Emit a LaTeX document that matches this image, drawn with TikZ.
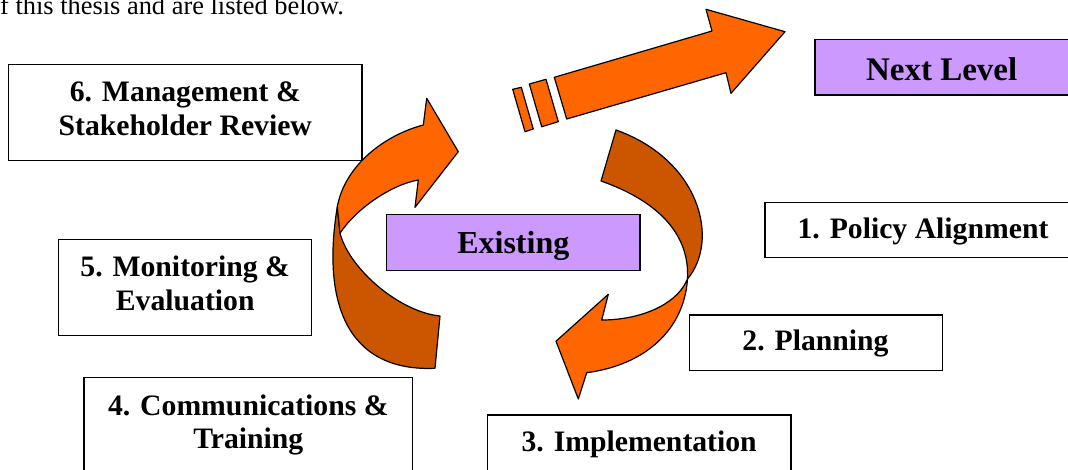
\documentclass[tikz,border=0pt]{standalone}
\usepackage{fontspec}
\setmainfont{Liberation Serif}
\definecolor{ribbonfront}{RGB}{255,102,0}
\definecolor{ribbonback}{RGB}{204,85,0}
\definecolor{levelfill}{RGB}{204,153,255}
\begin{document}
\begin{tikzpicture}[x=1pt,y=-1pt,
  stagebox/.style={draw=black, line width=1.2pt, fill=white, inner sep=0pt},
  levelbox/.style={draw=black, line width=1.2pt, fill=levelfill, inner sep=0pt},
  lbl/.style={font=\fontsize{29.7pt}{34pt}\selectfont\bfseries, inner sep=0pt, anchor=base},
  biglbl/.style={font=\fontsize{33pt}{38pt}\selectfont\bfseries, inner sep=0pt, anchor=base},
  front/.style={fill=ribbonfront, draw=black, line width=1.2pt, line join=round},
  back/.style={fill=ribbonback, draw=black, line width=1.2pt, line join=round}]
\useasboundingbox (0,0) rectangle (1068,469);
\clip (0,0) rectangle (1068,469);
\fill[white] (0,0) rectangle (1068,469);

% intro text (cut at the top)
\node[font=\fontsize{26.4pt}{30pt}\selectfont, anchor=base west, inner sep=0pt] (intro) at (0,14) {f this thesis and are listed below.};

% boxes
\node[stagebox, minimum width=353.5pt, minimum height=96.4pt] (b6) at (185.25,112.5) {};
\node[stagebox, minimum width=253pt, minimum height=96.4pt] (b5) at (185.2,287.5) {};
\node[stagebox, minimum width=328.7pt, minimum height=112.3pt] (b4) at (248.35,433.85) {};
\node[stagebox, minimum width=317pt, minimum height=54.6pt] (b1) at (923.5,230) {};
\node[stagebox, minimum width=253.4pt, minimum height=55.7pt] (b2) at (816,342.85) {};
\node[stagebox, minimum width=303.7pt, minimum height=75pt] (b3) at (639.15,452.5) {};
\node[levelbox, minimum width=257pt, minimum height=55.7pt] (next) at (943.5,67.15) {};
\node[levelbox, minimum width=253.3pt, minimum height=56.4pt] (exist) at (513.35,242.5) {};

% labels
\node[lbl] (t6a) at (185.3,101.7) {6. Management \&};
\node[lbl] (t6b) at (185.3,135) {Stakeholder Review};
\node[lbl] (t5a) at (185.2,276.7) {5. Monitoring \&};
\node[lbl] (t5b) at (185.2,310.7) {Evaluation};
\node[lbl] (t4a) at (248.3,415) {4. Communications \&};
\node[lbl] (t4b) at (248.3,448.3) {Training};
\node[lbl] (t1) at (923,238.3) {1. Policy Alignment};
\node[lbl] (t2) at (815.5,350.7) {2. Planning};
\node[lbl] (t3) at (639.2,451.7) {3. Implementation};
\node[biglbl] (tnext) at (941.7,80) {Next Level};
\node[biglbl, font=\fontsize{32pt}{36pt}\selectfont\bfseries] (texist) at (513.3,253.3) {Existing};

% left curved arrow
\path[back] (337.3,206.7) .. controls (322,300) and (345,372) .. (435,368.3)
  -- (440,316) .. controls (400,312) and (350,270) .. (340,233.3) -- cycle;
\path[front] (423.3,125) -- (426.7,98.3) -- (458.3,151.7) -- (415,207.3) -- (418.3,180)
  .. controls (390,185) and (355,210) .. (340,233.3) -- (337.3,206.7)
  .. controls (345,165) and (385,135) .. (423.3,125) -- cycle;

% right curved arrow
\path[back] (616,130) .. controls (700,160) and (720,240) .. (687.5,279)
  .. controls (690,232) and (655,200) .. (601,181) -- cycle;
\path[front] (687.5,279) .. controls (684,330) and (645,365) .. (586.7,372.7)
  -- (578.3,399) -- (556,341.2) -- (608.3,294.3) -- (601.7,320)
  .. controls (640,320) and (675,305) .. (686,282) -- cycle;

% straight arrow to the next level
\path[front] (554.3,77.3) -- (712,31) -- (706,9.3) -- (785,31.7) -- (731,93.3) -- (726,72.7) -- (566.7,119) -- cycle;
\path[front] (529.3,84) -- (546,79.3) -- (558.3,121.7) -- (541.7,126.7) -- cycle;
\path[front] (512.7,89.3) -- (521.3,87.3) -- (533.3,129) -- (525,131.7) -- cycle;
\end{tikzpicture}
\end{document}
